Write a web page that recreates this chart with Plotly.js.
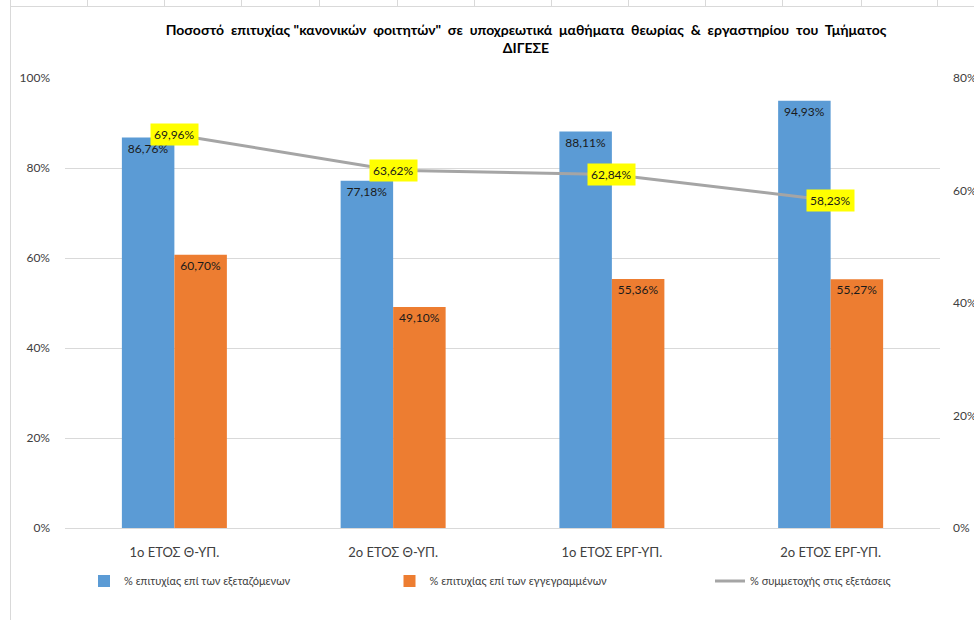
<!DOCTYPE html>
<html>
<head>
<meta charset="utf-8">
<script src="https://cdn.plot.ly/plotly-3.0.1.min.js"></script>
<style>
html,body{margin:0;padding:0;background:#fff;overflow:hidden;width:974px;height:620px;}
#chart{position:absolute;left:0;top:0;width:974px;height:620px;}
.deco{position:absolute;background:#D9D9D9;pointer-events:none;}
</style>
</head>
<body>
<div id="chart"></div>
<script>
// ---- data ----
const categories = ["1ο ΕΤΟΣ Θ-ΥΠ.", "2ο ΕΤΟΣ Θ-ΥΠ.", "1ο ΕΤΟΣ ΕΡΓ-ΥΠ.", "2ο ΕΤΟΣ ΕΡΓ-ΥΠ."];
const successExamined = [86.76, 77.18, 88.11, 94.93];
const successEnrolled = [60.70, 49.10, 55.36, 55.27];
const participation = [69.96, 63.62, 62.84, 58.23];
const seriesNames = ["% επιτυχίας επί των εξεταζόμενων", "% επιτυχίας επί των εγγεγραμμένων", "% συμμετοχής στις εξετάσεις"];
const leftTicks = [0, 20, 40, 60, 80, 100];
const rightTicks = [0, 20, 40, 60, 80];
const titleText = "Ποσοστό\u00a0 επιτυχίας \"κανονικών\u00a0 φοιτητών\"\u00a0 σε\u00a0 υποχρεωτικά\u00a0 μαθήματα\u00a0 θεωρίας\u00a0 &\u00a0 εργαστηρίου\u00a0 του\u00a0 Τμήματος<br>ΔΙΓΕΣΕ";

const FONT = "Lato, 'Noto Sans', 'DejaVu Sans', sans-serif";

const traces = [
  {
    type: "bar", name: seriesNames[0], x: categories, y: successExamined,
    marker: {color: "#5B9BD5"}, legend: "legend",
    texttemplate: "%{y:.2f}%", textposition: "inside", insidetextanchor: "end",
    textfont: {family: FONT, size: 12, color: "#1a1a1a"}, textangle: 0,
    hoverinfo: "skip"
  },
  {
    type: "bar", name: seriesNames[1], x: categories, y: successEnrolled,
    marker: {color: "#ED7D31"}, legend: "legend2",
    texttemplate: "%{y:.2f}%", textposition: "inside", insidetextanchor: "end",
    textfont: {family: FONT, size: 12, color: "#1a1a1a"}, textangle: 0,
    hoverinfo: "skip"
  },
  {
    type: "scatter", mode: "lines", name: seriesNames[2], x: categories, y: participation,
    yaxis: "y2", line: {color: "#A5A5A5", width: 3}, legend: "legend3", hoverinfo: "skip"
  }
];

const annotations = participation.map((v, i) => ({
  x: categories[i], y: v, xref: "x", yref: "y2",
  text: v.toFixed(2).replace(".", ",") + "%",
  showarrow: false, bgcolor: "#FFFF00", borderpad: 3,
  font: {family: FONT, size: 12, color: "#1a1a1a"},
  xanchor: "center", yanchor: "middle"
}));

const legendBase = (x) => ({
  orientation: "h", x: x, xanchor: "left", xref: "container",
  y: 1 - 581 / 620, yanchor: "middle", yref: "container",
  font: {family: FONT, size: 11, color: "#404040"},
  itemwidth: 30, bgcolor: "rgba(0,0,0,0)"
});

const layout = {
  width: 974, height: 620,
  margin: {l: 65, r: 34, t: 78, b: 92, pad: 0},
  paper_bgcolor: "rgba(0,0,0,0)", plot_bgcolor: "rgba(0,0,0,0)",
  separators: ", ",
  font: {family: FONT, size: 12, color: "#595959"},
  title: {
    text: titleText,
    font: {family: FONT, size: 14, color: "#000", weight: "bold"},
    x: 526 / 974, xanchor: "center", xref: "container",
    y: 1 - 35 / 620, yanchor: "middle", yref: "container"
  },
  barmode: "group", bargap: 0.52, bargroupgap: 0,
  xaxis: {
    type: "category", showgrid: false, zeroline: false,
    showline: true, linecolor: "#D9D9D9", linewidth: 1,
    ticks: "", ticklabelstandoff: 12,
    tickfont: {family: FONT, size: 13, color: "#404040"}
  },
  yaxis: {
    range: [0, 100], tickmode: "array", tickvals: leftTicks,
    ticktext: leftTicks.map(v => v + "%"),
    showgrid: true, gridcolor: "#D9D9D9", gridwidth: 1, zeroline: false,
    showline: false, ticks: "", ticklabelstandoff: 14,
    tickfont: {family: FONT, size: 12, color: "#404040"}
  },
  yaxis2: {
    overlaying: "y", side: "right", range: [0, 80], tickmode: "array", tickvals: rightTicks,
    ticktext: rightTicks.map(v => v + "%"),
    showgrid: false, zeroline: false, showline: false, ticks: "", ticklabelstandoff: 12,
    tickfont: {family: FONT, size: 12, color: "#404040"}
  },
  showlegend: true,
  legend: legendBase(84 / 974),
  legend2: legendBase(389.5 / 974),
  legend3: legendBase(710 / 974),
  annotations: annotations
};

Plotly.newPlot("chart", traces, layout, {displayModeBar: false, staticPlot: true});

// spreadsheet-like decoration around the chart object
(function(){
  const add = (l, t, w, h) => {
    const d = document.createElement("div");
    d.className = "deco";
    d.style.left = l + "px"; d.style.top = t + "px";
    d.style.width = w + "px"; d.style.height = h + "px";
    document.body.appendChild(d);
  };
  add(10, 6, 964, 1);
  add(10, 0, 1, 620);
  const cols = [87, 164, 241, 319, 397, 474, 551, 628, 705, 782, 861, 937];
  cols.forEach(c => add(c, 0, 1, 6));
})();
</script>
</body>
</html>
